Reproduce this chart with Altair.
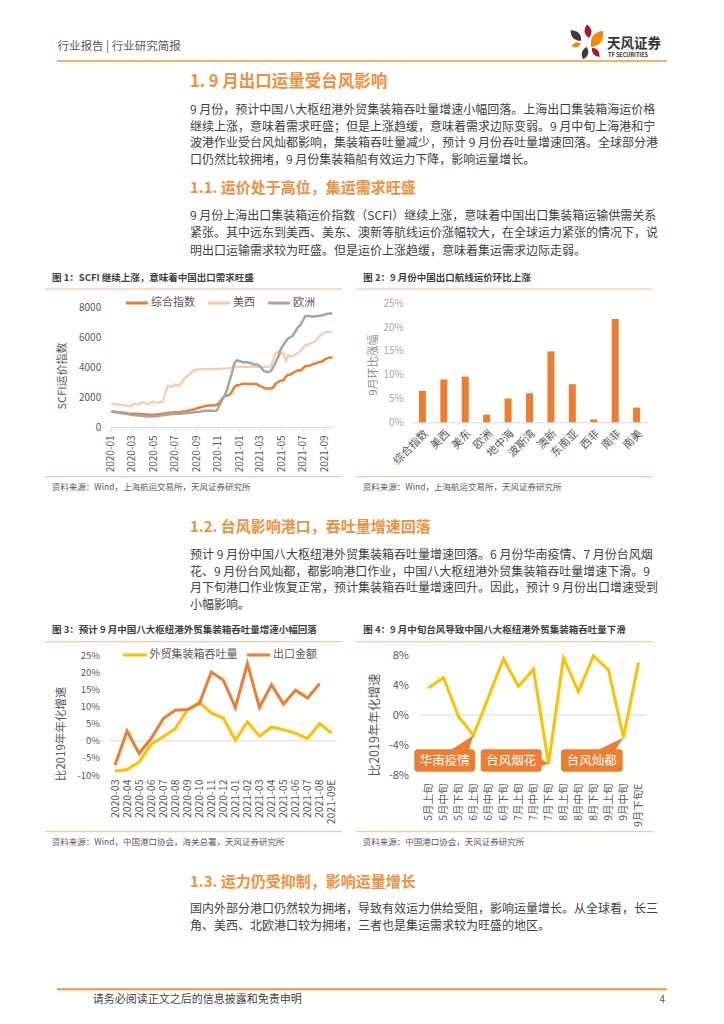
import altair as alt
import pandas as pd

FONT = "Noto Sans CJK SC"
W, H = 708, 1008
OFF = 8  # reference page px -> chart px

ORANGE = "#ED7D31"
LIGHT_ORANGE = "#F8CBAD"
GRAY = "#A5A5A5"
YELLOW = "#FFC000"
HEAD = "#F0903E"
BODY = "#3F3F3F"
AX = "#595959"
ZERO = "#D9D9D9"
RULE = "#F6BC8C"
BAND = "#F0963C"

# ======================= DATA =======================
# Figure 1: SCFI weekly (first week 2020-01-03)
scfi_first_week = "2020-01-03"
scfi_comp = [1023, 1005, 985, 975, 960, 950, 930, 905, 890, 885, 880, 870, 860,
             850, 835, 822, 818, 825, 835, 850, 870, 890, 910, 935, 950, 965,
             980, 990, 1005, 1030, 1050, 1080, 1110, 1150, 1190, 1250, 1300, 1340, 1390,
             1420, 1430, 1440, 1450, 1480, 1630, 1860, 2050, 2090, 2130, 2320, 2640, 2780,
             2783, 2870, 2885, 2875, 2860, 2860, 2870, 2875, 2780, 2700, 2620, 2565, 2570,
             2570, 2650, 2900, 3000, 3100, 3100, 3340, 3490, 3500, 3610, 3700, 3780, 3750,
             3900, 4050, 4090, 4100, 4190, 4230, 4290, 4340, 4380, 4520, 4580, 4640, 4600]
scfi_usw = [1560, 1530, 1500, 1490, 1470, 1450, 1430, 1400, 1390, 1560, 1520, 1480, 1600,
            1650, 1560, 1500, 1620, 1700, 1650, 1620, 1660, 1700, 2300, 2750, 2700, 2680,
            2850, 2750, 2800, 3100, 3250, 3400, 3550, 3700, 3800, 3830, 3850, 3860, 3860,
            3860, 3870, 3860, 3880, 3870, 3880, 3900, 3890, 3900, 3920, 3950, 3980, 4000,
            4010, 4000, 4020, 4010, 4000, 4010, 4020, 4010, 4020, 4010, 4020, 4000, 4030,
            4050, 4500, 4950, 5000, 4850, 4950, 4400, 4800, 4700, 4750, 4850, 4950, 5050,
            5250, 5450, 5500, 5550, 5650, 5700, 5900, 6100, 6200, 6300, 6350, 6350, 6350]
scfi_eu = [1060, 1040, 1000, 960, 930, 900, 880, 850, 820, 800, 790, 770, 750,
           730, 715, 705, 700, 700, 710, 730, 760, 790, 820, 840, 850, 860,
           870, 880, 890, 900, 910, 930, 950, 960, 980, 1000, 1020, 1050, 1080,
           1090, 1100, 1080, 1060, 1100, 1450, 1750, 2050, 2450, 3000, 3550, 4200, 4450,
           4400, 4350, 4300, 4330, 4280, 4250, 4150, 4200, 4100, 3950, 3750, 3680, 3650,
           3750, 4000, 4350, 4700, 5200, 5450, 5700, 5900, 6000, 6100, 6400, 6650, 6800,
           7100, 7400, 7400, 7380, 7350, 7380, 7400, 7420, 7450, 7500, 7550, 7560, 7560]
scfi_names = ["综合指数", "美西", "欧洲"]
scfi_ticks = ["2020-01", "2020-03", "2020-05", "2020-07", "2020-09", "2020-11",
              "2021-01", "2021-03", "2021-05", "2021-07", "2021-09"]
scfi_y_ticks = [0, 2000, 4000, 6000, 8000]

# Figure 2: month-on-month change by route (%)
routes = ["综合指数", "美西", "美东", "欧洲", "地中海", "波斯湾", "澳新", "东南亚", "西非", "南非", "南美"]
route_mom = [6.6, 9.0, 9.6, 1.6, 5.0, 6.1, 14.9, 8.0, 0.6, 21.7, 3.1]
route_y_ticks = [0, 5, 10, 15, 20, 25]

# Figure 3: growth vs 2019, annualised (%)
months3 = ["2020-03", "2020-04", "2020-05", "2020-06", "2020-07", "2020-08", "2020-09",
           "2020-10", "2020-11", "2020-12", "2021-01", "2021-02", "2021-03", "2021-04",
           "2021-05", "2021-06", "2021-07", "2021-08", "2021-09E"]
teu_yoy = [-8.9, -8.4, -6.2, -1.0, 1.2, 3.6, 9.0, 11.4, 8.2, 6.7, 0.2, 5.6, 1.4, 4.1,
           3.3, 2.2, 0.7, 5.1, 2.3]
export_yoy = [-7.1, 2.9, -3.7, 0.7, 6.5, 9.0, 9.2, 10.9, 20.2, 17.8, 9.8, 22.7, 9.8, 16.5,
              10.8, 14.9, 12.6, 16.8, None]
fig3_names = ["外贸集装箱吞吐量", "出口金额"]
fig3_y_ticks = [-10, -5, 0, 5, 10, 15, 20, 25]

# Figure 4: ten-day periods (%)
decades = ["5月上旬", "5月中旬", "5月下旬", "6月上旬", "6月中旬", "6月下旬", "7月上旬", "7月中旬",
           "7月下旬", "8月上旬", "8月中旬", "8月下旬", "9月上旬", "9月中旬", "9月下旬E"]
teu_dec = [3.6, 5.0, -0.2, -2.7, 2.4, 7.5, 3.8, 6.1, -6.5, 7.6, 3.1, 7.9, 6.0, -3.0, 7.0]
fig4_y_ticks = [-8, -4, 0, 4, 8]
callout_labels = ["华南疫情", "台风烟花", "台风灿都"]
callout_targets = ["6月上旬", "7月下旬", "9月中旬"]

# Page text
header_title = "行业报告 | 行业研究简报"
logo_cn = "天风证券"
logo_en = "TF SECURITIES"
h1 = "1. 9 月出口运量受台风影响"
p1 = ["9 月份，预计中国八大枢纽港外贸集装箱吞吐量增速小幅回落。上海出口集装箱海运价格",
      "继续上涨，意味着需求旺盛；但是上涨趋缓，意味着需求边际变弱。9 月中旬上海港和宁",
      "波港作业受台风灿都影响，集装箱吞吐量减少，预计 9 月份吞吐量增速回落。全球部分港",
      "口仍然比较拥堵，9 月份集装箱船有效运力下降，影响运量增长。"]
h11 = "1.1. 运价处于高位，集运需求旺盛"
p11 = ["9 月份上海出口集装箱运价指数（SCFI）继续上涨，意味着中国出口集装箱运输供需关系",
       "紧张。其中远东到美西、美东、澳新等航线运价涨幅较大，在全球运力紧张的情况下，说",
       "明出口运输需求较为旺盛。但是运价上涨趋缓，意味着集运需求边际走弱。"]
h12 = "1.2. 台风影响港口，吞吐量增速回落"
p12 = ["预计 9 月份中国八大枢纽港外贸集装箱吞吐量增速回落。6 月份华南疫情、7 月份台风烟",
       "花、9 月份台风灿都，都影响港口作业，中国八大枢纽港外贸集装箱吞吐量增速下滑。9",
       "月下旬港口作业恢复正常，预计集装箱吞吐量增速回升。因此，预计 9 月份出口增速受到",
       "小幅影响。"]
h13 = "1.3. 运力仍受抑制，影响运量增长"
p13 = ["国内外部分港口仍然较为拥堵，导致有效运力供给受阻，影响运量增长。从全球看，长三",
       "角、美西、北欧港口较为拥堵，三者也是集运需求较为旺盛的地区。"]
fig_titles = ["图 1：SCFI 继续上涨，意味着中国出口需求旺盛",
              "图 2：9 月份中国出口航线运价环比上涨",
              "图 3：预计 9 月中国八大枢纽港外贸集装箱吞吐量增速小幅回落",
              "图 4：9 月中旬台风导致中国八大枢纽港外贸集装箱吞吐量下滑"]
fig_sources = ["资料来源：Wind，上海航运交易所，天风证券研究所",
               "资料来源：Wind，上海航运交易所，天风证券研究所",
               "资料来源：Wind，中国港口协会，海关总署，天风证券研究所",
               "资料来源：中国港口协会，天风证券研究所"]
y_titles = ["SCFI运价指数", "9月环比涨幅", "比2019年年化增速", "比2019年年化增速"]
footer = "请务必阅读正文之后的信息披露和免责申明"
page_no = "4"


# ======================= HELPERS =======================
def P(v):
    return v - OFF


def texts(items, size, color, weight="normal", align="left", angle=0):
    df = pd.DataFrame({"t": [i[0] for i in items],
                       "px": [P(i[1]) for i in items],
                       "py": [P(i[2]) for i in items]})
    mk = dict(align=align, baseline="middle", font=FONT, fontSize=size,
              color=color, fontWeight=weight)
    if angle:
        mk["angle"] = angle
    return alt.Chart(df).mark_text(**mk).encode(
        x=alt.X("px:Q", scale=None, axis=None),
        y=alt.Y("py:Q", scale=None, axis=None),
        text="t:N")


def rules(items, color, width):
    df = pd.DataFrame({"x1": [P(i[0]) for i in items],
                       "x2": [P(i[1]) for i in items],
                       "y": [P(i[2]) for i in items]})
    return alt.Chart(df).mark_rule(color=color, strokeWidth=width).encode(
        x=alt.X("x1:Q", scale=None, axis=None), x2="x2:Q",
        y=alt.Y("y:Q", scale=None, axis=None))


def legend(names, colors, spans, text_x, y, width):
    df = pd.DataFrame({"name": names, "c": colors,
                       "x1": [P(s[0]) for s in spans], "x2": [P(s[1]) for s in spans],
                       "tx": [P(t) for t in text_x], "y": [P(y)] * len(names)})
    lines = alt.Chart(df).mark_rule(strokeWidth=width).encode(
        x=alt.X("x1:Q", scale=None, axis=None), x2="x2:Q",
        y=alt.Y("y:Q", scale=None, axis=None),
        color=alt.Color("c:N", scale=None, legend=None))
    labels = alt.Chart(df).mark_text(align="left", baseline="middle", font=FONT,
                                     fontSize=11, color=AX).encode(
        x=alt.X("tx:Q", scale=None, axis=None),
        y=alt.Y("y:Q", scale=None, axis=None), text="name:N")
    return [lines, labels]


def pct_axis(values, axis_x, pad, size, color):
    return alt.Axis(orient="left", offset=-P(axis_x), values=values,
                    labelExpr="datum.value + '%'", domain=False, ticks=False, tickSize=0,
                    labelPadding=pad, labelFontSize=size, labelColor=color,
                    grid=False, title=None, labelOverlap=False)


# ======================= FIGURE 1 =======================
def dt(s):
    y, m = s.split("-")
    return alt.DateTime(year=int(y), month=int(m), date=1)


df1 = pd.DataFrame({"date": pd.date_range(scfi_first_week, periods=len(scfi_comp), freq="7D"),
                    "comp": scfi_comp, "usw": scfi_usw, "eu": scfi_eu})
x1a = alt.Axis(orient="bottom", offset=P(427) - H, values=[dt(s) for s in scfi_ticks],
               format="%Y-%m", labelAngle=-90, ticks=True, tickSize=4, tickColor=ZERO,
               domainColor=ZERO, labelPadding=4, labelFontSize=10, labelColor=AX,
               labelOverlap=False, labelFlush=False, grid=False, title=None)
y1a = alt.Axis(orient="left", offset=-P(110.7), values=scfi_y_ticks, format="d", domain=False,
               ticks=False, tickSize=0, labelPadding=10, labelFontSize=10,
               labelColor=AX, grid=False, title=None)


def c1_line(field, color, width, with_axes=False):
    x1s = alt.Scale(domain=[dt("2020-01"), alt.DateTime(year=2021, month=9, date=25)],
                    range=[P(110.7), P(332.7)])
    y1s = alt.Scale(domain=[0, 8000], range=[P(427), P(307)], nice=False, zero=False)
    return alt.Chart(df1).mark_line(color=color, strokeWidth=width).encode(
        x=alt.X("date:T", scale=x1s, axis=x1a if with_axes else None),
        y=alt.Y(f"{field}:Q", scale=y1s, axis=y1a if with_axes else None))


chart1 = [c1_line("comp", ORANGE, 2.5, True),
          c1_line("usw", LIGHT_ORANGE, 2.2),
          c1_line("eu", GRAY, 2.5)]

# ======================= FIGURE 2 =======================
df2 = pd.DataFrame({"route": routes, "mom": route_mom})
chart2 = [alt.Chart(df2).mark_bar(size=7, color=ORANGE).encode(
    x=alt.X("route:N", sort=None,
            scale=alt.Scale(domain=routes, range=[P(411.7), P(647.3)]),
            axis=alt.Axis(orient="bottom", offset=P(422.3) - H, labelAngle=-45, ticks=False,
                          tickSize=0, domainColor=ZERO, labelPadding=5, labelFontSize=11,
                          labelColor=AX, labelOverlap=False, grid=False, title=None)),
    y=alt.Y("mom:Q", scale=alt.Scale(domain=[0, 25], range=[P(422.3), P(303.3)], nice=False),
            axis=pct_axis(route_y_ticks, 411.7, 8.5, 10, "#A6A6A6")))]

# ======================= FIGURE 3 =======================
df3 = pd.DataFrame({"m": months3, "teu": teu_yoy, "exp": export_yoy})


def x3s():
    return alt.Scale(type="point", domain=months3, range=[P(109), P(337.7)], padding=0.5)


def y3s():
    return alt.Scale(domain=[-10, 25], range=[P(775), P(655.7)], nice=False, zero=False)


x3a = alt.Axis(orient="bottom", offset=P(775) - H, labelAngle=-90, domain=False, ticks=False,
               tickSize=0, labelPadding=4, labelFontSize=10.5, labelColor=AX,
               labelOverlap=False, grid=False, title=None)
zero3 = alt.Chart(pd.DataFrame({"z": [0]})).mark_rule(color=ZERO, strokeWidth=1).encode(
    y=alt.Y("z:Q", scale=y3s(), axis=pct_axis(fig3_y_ticks, 109, 9.5, 9.5, AX)),
    x=alt.value(P(110)), x2=alt.value(P(336.7)))
teu3 = alt.Chart(df3).mark_line(color=YELLOW, strokeWidth=3).encode(
    x=alt.X("m:O", sort=None, scale=x3s(), axis=x3a),
    y=alt.Y("teu:Q", scale=y3s(), axis=None))
exp3 = alt.Chart(df3).mark_line(color=ORANGE, strokeWidth=3).encode(
    x=alt.X("m:O", sort=None, scale=x3s(), axis=None),
    y=alt.Y("exp:Q", scale=y3s(), axis=None))
chart3 = [zero3, teu3, exp3]

# ======================= FIGURE 4 =======================
C4X0, C4X1, C4YT, C4YB = 421, 646, 655, 775
df4 = pd.DataFrame({"d": decades, "v": teu_dec})


def x4s():
    return alt.Scale(type="point", domain=decades, range=[P(C4X0), P(C4X1)], padding=0.5)


def y4s():
    return alt.Scale(domain=[-8, 8], range=[P(C4YB), P(C4YT)], nice=False, zero=False)


x4a = alt.Axis(orient="bottom", offset=P(C4YB) - H, labelAngle=-90, domain=False, ticks=False,
               tickSize=0, labelPadding=8, labelFontSize=10.5, labelColor=AX,
               labelOverlap=False, grid=False, title=None)
zero4 = alt.Chart(pd.DataFrame({"z": [0]})).mark_rule(color=ZERO, strokeWidth=1).encode(
    y=alt.Y("z:Q", scale=y4s(), axis=pct_axis(fig4_y_ticks, C4X0, 12.5, 11, AX)),
    x=alt.value(P(420)), x2=alt.value(P(646.7)))
line4 = alt.Chart(df4).mark_line(color=YELLOW, strokeWidth=3).encode(
    x=alt.X("d:O", sort=None, scale=x4s(), axis=x4a),
    y=alt.Y("v:Q", scale=y4s(), axis=None))

# callout geometry (reference px)
box_x = [(414.3, 475), (480.7, 541.7), (561, 622.7)]
box_y = (749.3, 771.7)
pointer_base = [((448, 752), (468, 752)), ((539, 757.5), (539, 767)), ((594, 752), (614, 752))]
step4 = (C4X1 - C4X0) / len(decades)
callout_vals = [teu_dec[decades.index(t)] for t in callout_targets]
pointer_layers = []
for tgt, val, base in zip(callout_targets, callout_vals, pointer_base):
    ax_ = C4X0 + (decades.index(tgt) + 0.5) * step4
    ay_ = C4YB - (val + 8) * (C4YB - C4YT) / 16
    path = "M0,0 L{:.1f},{:.1f} L{:.1f},{:.1f} Z".format(
        base[0][0] - ax_, base[0][1] - ay_, base[1][0] - ax_, base[1][1] - ay_)
    pdf = pd.DataFrame({"t": [tgt], "v": [val]})
    pointer_layers.append(
        alt.Chart(pdf).mark_point(shape=path, size=4, filled=True, color=ORANGE,
                                  opacity=1, strokeWidth=0).encode(
            x=alt.X("t:O", scale=x4s(), axis=None),
            y=alt.Y("v:Q", scale=y4s(), axis=None)))
chart4 = [zero4, line4] + pointer_layers

boxes_df = pd.DataFrame({"label": callout_labels,
                         "x1": [P(b[0]) for b in box_x], "x2": [P(b[1]) for b in box_x],
                         "y1": [P(box_y[0])] * 3, "y2": [P(box_y[1])] * 3,
                         "cx": [P((b[0] + b[1]) / 2) for b in box_x],
                         "cy": [P((box_y[0] + box_y[1]) / 2)] * 3})
boxes = alt.Chart(boxes_df).mark_rect(color=ORANGE, cornerRadius=3).encode(
    x=alt.X("x1:Q", scale=None, axis=None), x2="x2:Q",
    y=alt.Y("y1:Q", scale=None, axis=None), y2="y2:Q")
box_text = alt.Chart(boxes_df).mark_text(font=FONT, fontSize=12.5, color="white",
                                         align="center", baseline="middle").encode(
    x=alt.X("cx:Q", scale=None, axis=None), y=alt.Y("cy:Q", scale=None, axis=None),
    text="label:N")

# ======================= PAGE DECORATION =======================
LEAF = "M-1,0 Q0,-1 1,0 Q0,1 -1,0 Z"
petals = [(576, 35.5, 15, 45, "#3C3C3C"), (588, 31.2, 14, 82, "#A6192E"),
          (597, 39, 20, 305, "#F08A00"), (576.2, 45, 9.5, 345, "#F08A00"),
          (595.7, 52.3, 12, 50, "#A6192E"), (585, 53, 13, 105, "#3C3C3C")]
petal_df = pd.DataFrame({"px": [P(p[0]) for p in petals], "py": [P(p[1]) for p in petals],
                         "s": [p[2] ** 2 for p in petals], "a": [p[3] for p in petals],
                         "c": [p[4] for p in petals]})
logo = alt.Chart(petal_df).mark_point(shape=LEAF, filled=True, opacity=1, strokeWidth=0).encode(
    x=alt.X("px:Q", scale=None, axis=None), y=alt.Y("py:Q", scale=None, axis=None),
    size=alt.Size("s:Q", scale=None, legend=None), angle=alt.Angle("a:Q", scale=None),
    color=alt.Color("c:N", scale=None, legend=None))

body_items = []
for i, s in enumerate(p1):
    body_items.append((s, 190, 110 + i * 16.7))
for i, s in enumerate(p11):
    body_items.append((s, 190, 215.5 + i * 17.5))
for i, s in enumerate(p12):
    body_items.append((s, 190, 555 + i * 16.7))
for i, s in enumerate(p13):
    body_items.append((s, 190, 909.3 + i * 16.7))

title_pos = [(52, 278), (363.3, 278), (52, 630), (363.3, 630)]
source_pos = [(51.7, 486.7), (362.7, 486.7), (51.7, 841.7), (362.7, 841.7)]
ytitle_pos = [(63, 376), (374, 365), (61.7, 734), (375, 725)]
ytitle_size = [11, 11, 11.5, 12.5]
ytitle_color = [AX, "#8C8C8C", AX, AX]

layers = chart1 + chart2 + chart3 + chart4 + [boxes, box_text, logo]
layers += legend(scfi_names, [ORANGE, LIGHT_ORANGE, GRAY],
                 [(126, 148), (208, 230), (268, 290)], [151, 233, 293], 303, 3)
layers += legend(fig3_names, [YELLOW, ORANGE], [(123, 147), (247, 270)], [149.5, 273], 655, 3)
layers += [
    rules([(57, 667, 61)], BAND, 1.5),
    rules([(57, 667, 989.3)], BAND, 2),
    rules([(45, 342, 289), (356, 653, 289), (45, 342, 641.7), (356, 653, 641.7),
           (45, 342, 476.7), (356, 653, 476.7), (45, 342, 831.7), (356, 653, 831.7)], RULE, 1),
    texts([(header_title, 57.5, 47)], 11.5, AX),
    texts([(logo_cn, 607, 43.5)], 13.5, "#333333", "bold"),
    texts([(logo_en, 608, 54.5)], 5.5, "#333333", "bold"),
    texts([(h1, 190, 81.7)], 16.5, HEAD, "bold"),
    texts([(h11, 190, 188.3), (h12, 190, 526.7), (h13, 190, 881.7)], 15, HEAD, "bold"),
    texts(body_items, 12, BODY),
    texts([(t, p[0], p[1]) for t, p in zip(fig_titles, title_pos)], 9.5, BODY, "bold"),
    texts([(t, p[0], p[1]) for t, p in zip(fig_sources, source_pos)], 8.5, AX),
    texts([(footer, 92.7, 1000)], 11, BODY),
    texts([(page_no, 665, 1000)], 10, AX, align="right"),
]
for t, p, sz, col in zip(y_titles, ytitle_pos, ytitle_size, ytitle_color):
    layers.append(texts([(t, p[0], p[1])], sz, col, align="center", angle=270))

page = alt.layer(*layers).resolve_scale(
    x="independent", y="independent"
).resolve_axis(
    x="independent", y="independent"
).properties(
    width=W, height=H, padding=0, autosize=alt.AutoSizeParams(type="none")
).configure_view(strokeWidth=0).configure_axis(labelFont=FONT)

page.save("out.html", embed_options={"renderer": "svg", "actions": False})
